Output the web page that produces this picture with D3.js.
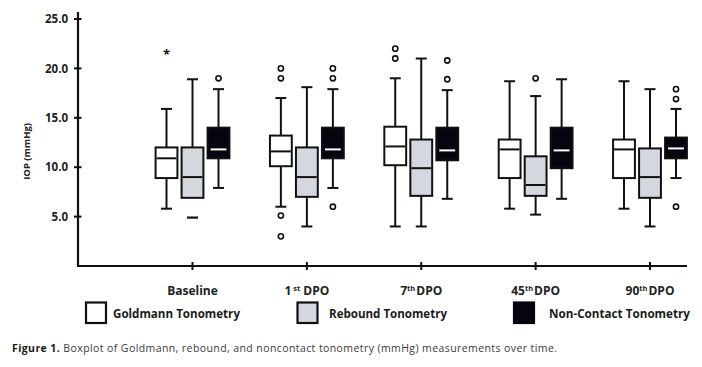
<!DOCTYPE html>
<html>
<head>
<meta charset="utf-8">
<script src="https://cdn.jsdelivr.net/npm/d3@7"></script>
<style>
  html, body { margin: 0; padding: 0; background: #fff; }
  svg { display: block; }
  text { font-family: "Open Sans", "DejaVu Sans", sans-serif; }
</style>
</head>
<body>
<svg id="chart" width="702" height="367"></svg>
<script>
// ---------- DATA ----------
const categories = ["Baseline", "1st DPO", "7th DPO", "45th DPO", "90th DPO"];
const labelMain = ["Baseline", "1", "7", "45", "90"];
const labelSup = ["", "st", "th", "th", "th"];
const series = ["Goldmann Tonometry", "Rebound Tonometry", "Non-Contact Tonometry"];
const yTicks = [5, 10, 15, 20, 25];

// five-number summaries [whiskerLow, q1, median, q3, whiskerHigh]
const goldmannStats = [
  [5.8, 8.9, 10.9, 12.0, 15.9],
  [6.0, 10.1, 11.6, 13.2, 17.0],
  [4.0, 10.2, 12.1, 14.1, 19.0],
  [5.8, 8.9, 11.8, 12.8, 18.7],
  [5.8, 8.9, 11.8, 12.8, 18.7]
];
const reboundStats = [
  [6.9, 6.9, 9.0, 12.0, 18.9],
  [4.0, 7.0, 9.0, 12.0, 18.1],
  [4.0, 7.1, 9.9, 12.8, 21.0],
  [5.2, 7.1, 8.2, 11.1, 17.2],
  [4.0, 6.9, 9.0, 11.9, 17.9]
];
const nctStats = [
  [7.9, 10.9, 11.8, 14.0, 17.9],
  [7.9, 10.9, 11.8, 14.0, 17.9],
  [6.8, 10.7, 11.7, 14.0, 17.8],
  [6.8, 9.9, 11.7, 14.0, 18.9],
  [8.9, 10.9, 11.9, 13.0, 15.9]
];

// outliers (circles)
const goldmannOutliers = [[], [20.0, 19.0, 5.1, 3.0], [22.0, 21.0], [], []];
const reboundOutliers = [[], [], [], [19.0], []];
const nctOutliers = [[19.0], [20.0, 19.0, 6.0], [20.8, 18.9], [], [17.9, 16.9, 6.0]];
// extreme values (asterisk) and dash marker
const goldmannExtremes = [[21.8], [], [], [], []];
const reboundDashes = [[4.9], [], [], [], []];

const statsBySeries = [goldmannStats, reboundStats, nctStats];
const outliersBySeries = [goldmannOutliers, reboundOutliers, nctOutliers];
const extremesBySeries = [goldmannExtremes, [[], [], [], [], []], [[], [], [], [], []]];
const dashesBySeries = [[[], [], [], [], []], reboundDashes, [[], [], [], [], []]];

// ---------- STYLE ----------
const fills = ["#ffffff", "#d3d7de", "#05050f"];
const medianColors = ["#111111", "#111111", "#ffffff"];
const ink = "#111111";

// ---------- SCALES ----------
const svg = d3.select("#chart");
const y = d3.scaleLinear().domain([0, 25]).range([266, 19]);
const x = d3.scalePoint().domain(categories).range([192.5, 650]);
const inner = d3.scaleBand().domain(series).range([-39, 39]);
const boxW = inner.bandwidth() * 0.84;
const capW = 11;

// ---------- AXES ----------
const axisX0 = 78, axisX1 = 687;
const gy = svg.append("g").attr("transform", `translate(${axisX0},0)`);
gy.append("line").attr("x1", 0).attr("x2", 0).attr("y1", y(0)).attr("y2", y(25) - 7)
  .attr("stroke", ink).attr("stroke-width", 2.2);
yTicks.forEach(t => {
  gy.append("line").attr("x1", -4).attr("x2", 3.5).attr("y1", y(t)).attr("y2", y(t))
    .attr("stroke", ink).attr("stroke-width", 2);
  gy.append("text").attr("x", -10).attr("y", y(t)).attr("dy", "0.36em")
    .attr("text-anchor", "end").attr("font-size", 11.5).attr("font-weight", 700)
    .attr("fill", "#222").text(d3.format(".1f")(t));
});
svg.append("text")
  .attr("transform", `translate(30,${y(11.6)}) rotate(-90)`)
  .attr("text-anchor", "middle").attr("font-size", 9.5).attr("font-weight", 700)
  .attr("fill", "#222").text("IOP (mmHg)");

svg.append("line").attr("x1", axisX0 - 1).attr("x2", axisX1).attr("y1", y(0)).attr("y2", y(0))
  .attr("stroke", ink).attr("stroke-width", 2.2);
categories.forEach((c, i) => {
  const cx = x(c);
  svg.append("line").attr("x1", cx).attr("x2", cx).attr("y1", y(0) - 4).attr("y2", y(0) + 4)
    .attr("stroke", ink).attr("stroke-width", 2);
  const t = svg.append("text").attr("x", cx).attr("y", 295)
    .attr("text-anchor", "middle").attr("font-size", 12).attr("font-weight", 700).attr("fill", "#222");
  t.append("tspan").text(labelMain[i]);
  if (labelSup[i]) {
    t.append("tspan").attr("font-size", 7.5).attr("dy", -4.5).attr("dx", i === 1 ? 2 : 0).text(labelSup[i]);
    t.append("tspan").attr("dy", 4.5).attr("dx", i === 1 ? 3 : 1).text("DPO");
  }
});

// ---------- BOXES ----------
series.forEach((s, si) => {
  const g = svg.append("g");
  categories.forEach((c, ci) => {
    const [lo, q1, med, q3, hi] = statsBySeries[si][ci];
    const cx = x(c) + inner(s) + inner.bandwidth() / 2;
    if (hi > q3) {
      g.append("line").attr("x1", cx).attr("x2", cx).attr("y1", y(q3)).attr("y2", y(hi))
        .attr("stroke", ink).attr("stroke-width", 2);
      g.append("line").attr("x1", cx - capW / 2).attr("x2", cx + capW / 2).attr("y1", y(hi)).attr("y2", y(hi))
        .attr("stroke", ink).attr("stroke-width", 2);
    }
    if (lo < q1) {
      g.append("line").attr("x1", cx).attr("x2", cx).attr("y1", y(q1)).attr("y2", y(lo))
        .attr("stroke", ink).attr("stroke-width", 2);
      g.append("line").attr("x1", cx - capW / 2).attr("x2", cx + capW / 2).attr("y1", y(lo)).attr("y2", y(lo))
        .attr("stroke", ink).attr("stroke-width", 2);
    }
    g.append("rect").attr("x", cx - boxW / 2).attr("y", y(q3)).attr("width", boxW)
      .attr("height", y(q1) - y(q3)).attr("fill", fills[si])
      .attr("stroke", ink).attr("stroke-width", 2);
    g.append("line").attr("x1", cx - boxW / 2 + (si === 2 ? 3 : 1)).attr("x2", cx + boxW / 2 - (si === 2 ? 3 : 1))
      .attr("y1", y(med)).attr("y2", y(med))
      .attr("stroke", medianColors[si]).attr("stroke-width", 2);
    outliersBySeries[si][ci].forEach(v => {
      g.append("circle").attr("cx", cx).attr("cy", y(v)).attr("r", 2.6)
        .attr("fill", "#fff").attr("stroke", ink).attr("stroke-width", 1.6);
    });
    extremesBySeries[si][ci].forEach(v => {
      g.append("text").attr("x", cx).attr("y", y(v)).attr("dy", "0.62em")
        .attr("text-anchor", "middle").attr("font-size", 13).attr("font-weight", 700)
        .attr("fill", ink).text("*");
    });
    dashesBySeries[si][ci].forEach(v => {
      g.append("line").attr("x1", cx - capW / 2).attr("x2", cx + capW / 2).attr("y1", y(v)).attr("y2", y(v))
        .attr("stroke", ink).attr("stroke-width", 2.2);
    });
  });
});

// ---------- LEGEND ----------
const legendX = [86, 297.5, 514];
const legendTextX = [113, 329, 549];
const legendTextW = [127, 118, 141];
series.forEach((s, si) => {
  svg.append("rect").attr("x", legendX[si]).attr("y", 302.5).attr("width", 20).attr("height", 20.5)
    .attr("fill", fills[si]).attr("stroke", si === 2 ? fills[2] : ink).attr("stroke-width", 2.2);
  svg.append("text").attr("x", legendTextX[si]).attr("y", 318)
    .attr("font-size", 11.5).attr("font-weight", 700).attr("fill", "#1a1a1a")
    .attr("textLength", legendTextW[si]).attr("lengthAdjust", "spacingAndGlyphs").text(s);
});

// ---------- CAPTION ----------
const cap = svg.append("text").attr("x", 12).attr("y", 352).attr("font-size", 10.5).attr("fill", "#3a3a3a")
  .attr("textLength", 545).attr("lengthAdjust", "spacing");
cap.append("tspan").attr("font-weight", 700).attr("fill", "#1a1a1a").text("Figure 1.");
cap.append("tspan").text(" Boxplot of Goldmann, rebound, and noncontact tonometry (mmHg) measurements over time.");
</script>
</body>
</html>
